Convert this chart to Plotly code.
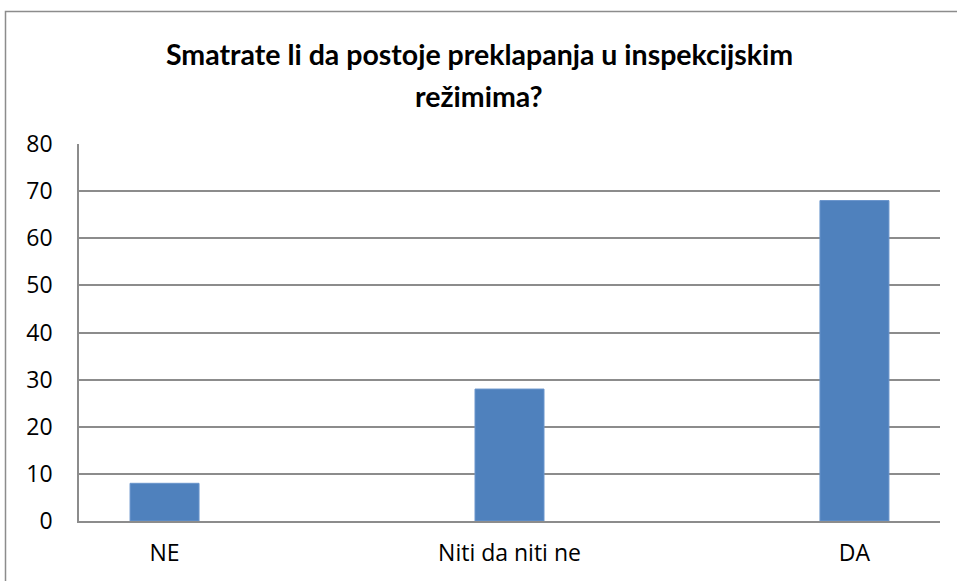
import plotly.graph_objects as go

categories = ["NE", "Niti da niti ne", "DA"]
values = [8, 28, 68]
y_ticks = [0, 10, 20, 30, 40, 50, 60, 70, 80]
title_lines = ["Smatrate li da postoje preklapanja u inspekcijskim", "režimima?"]

W, H = 957, 581
L, R, T, B = 79, 17, 144, 60
pw, ph = W - L - R, H - T - B

fig = go.Figure()
fig.add_trace(go.Bar(
    x=categories, y=values, width=0.2,
    marker=dict(color="#4F81BD", line=dict(color="#6A95CC", width=1)),
))

def px_x(x):
    return (x - L) / pw

def px_y(y):
    return (H - B - y) / ph

title_font = dict(family="Lato, Carlito, Calibri, sans-serif", size=28.5, color="black")
annotations = [
    dict(text="<b>" + title_lines[0] + "</b>", xref="paper", yref="paper",
         x=px_x(479), y=px_y(54), xanchor="center", yanchor="middle",
         showarrow=False, font=title_font),
    dict(text="<b>" + title_lines[1] + "</b>", xref="paper", yref="paper",
         x=px_x(479), y=px_y(96), xanchor="center", yanchor="middle",
         showarrow=False, font=title_font),
]

fig.update_layout(
    width=W, height=H,
    margin=dict(l=L, r=R, t=T, b=B, autoexpand=False),
    paper_bgcolor="white", plot_bgcolor="white",
    showlegend=False,
    font=dict(family="Open Sans, sans-serif", size=23, color="black"),
    annotations=annotations,
    xaxis=dict(
        range=[-0.248, 2.248],
        showgrid=False, showline=True, linecolor="#8C8C8C", linewidth=2,
        ticks="", tickfont=dict(size=23), ticklabelstandoff=10,
    ),
    yaxis=dict(
        range=[0, 80], tickvals=y_ticks, showgrid=True, gridcolor="#8C8C8C",
        gridwidth=1.5, showline=True, linecolor="#8C8C8C", linewidth=1.5,
        zeroline=False, ticks="", tickfont=dict(size=23), ticklabelstandoff=20,
    ),
    shapes=[dict(
        type="rect", xref="paper", yref="paper",
        x0=px_x(5.5), x1=px_x(W + 10), y0=px_y(H + 10), y1=px_y(11.5),
        line=dict(color="#8C8C8C", width=1.5), fillcolor="rgba(0,0,0,0)",
        layer="below",
    )],
)

fig.write_html("out.html", config={"displayModeBar": False})

with open("out.html", "r", encoding="utf-8") as f:
    html = f.read()
html = html.replace("<head>", "<head><style>html,body{margin:0;padding:0;overflow:hidden;}</style>", 1)
with open("out.html", "w", encoding="utf-8") as f:
    f.write(html)
